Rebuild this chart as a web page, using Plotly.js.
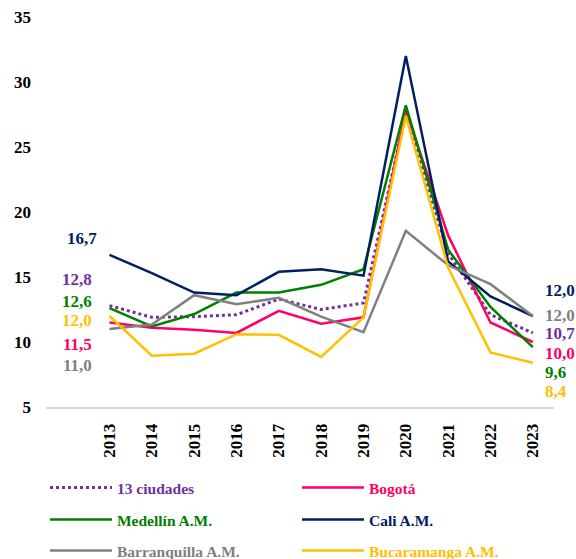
<!DOCTYPE html>
<html>
<head>
<meta charset="utf-8">
<script src="https://cdn.plot.ly/plotly-3.0.1.min.js"></script>
<style>html,body{margin:0;padding:0;background:#fff;}#chart{width:576px;height:559px;}</style>
</head>
<body>
<div id="chart"></div>
<script>
var years = [2013, 2014, 2015, 2016, 2017, 2018, 2019, 2020, 2021, 2022, 2023];
var ciudades13   = [12.8, 11.9, 11.95, 12.1, 13.3, 12.5, 13.0, 27.6, 16.8, 12.1, 10.7];
var bogota       = [11.5, 11.1, 10.95, 10.7, 12.4, 11.4, 11.9, 27.8, 18.2, 11.5, 10.0];
var medellin     = [12.6, 11.2, 12.15, 13.8, 13.8, 14.4, 15.6, 28.2, 17.1, 12.7, 9.6];
var cali         = [16.7, 15.3, 13.8, 13.6, 15.4, 15.6, 15.1, 32.0, 16.2, 13.5, 12.0];
var barranquilla = [11.0, 11.35, 13.6, 12.9, 13.4, 11.95, 10.75, 18.55, 15.9, 14.45, 12.0];
var bucaramanga  = [12.0, 8.95, 9.1, 10.6, 10.55, 8.85, 11.9, 27.4, 15.7, 9.2, 8.4];
var yTicks = [5, 10, 15, 20, 25, 30, 35];

var seriesNames = ['13 ciudades', 'Bogotá', 'Medellín A.M.', 'Cali A.M.', 'Barranquilla A.M.', 'Bucaramanga A.M.'];
var seriesData = [ciudades13, bogota, medellin, cali, barranquilla, bucaramanga];
var colors = ['#7030A0', '#FF0066', '#008000', '#002060', '#808080', '#FFC000'];
var legendIds = ['legend', 'legend', 'legend2', 'legend2', 'legend3', 'legend3'];

var traces = seriesData.map(function (d, i) {
  return {
    x: years, y: d, type: 'scatter', mode: 'lines',
    name: '<span style="color:' + colors[i] + '">' + seriesNames[i] + '</span>',
    line: {color: colors[i], width: i === 0 ? 3 : 2.5, dash: i === 0 ? 'dot' : 'solid'},
    legend: legendIds[i],
    hoverinfo: 'skip'
  };
});

function fmt(v) { return v.toFixed(1).replace('.', ','); }

var serif = 'Liberation Serif, Times New Roman, serif';
var leftLab = [[3, 18.0, 2012.75], [0, 14.77, 2012.63], [2, 13.08, 2012.63], [5, 11.69, 2012.63], [1, 9.77, 2012.63], [4, 8.23, 2012.63]];
var rightLab = [[3, 14.0], [4, 12.05], [0, 10.65], [1, 9.08], [2, 7.62], [5, 6.23]];
var annotations = [];
leftLab.forEach(function (l) {
  annotations.push({x: l[2], y: l[1], xref: 'x', yref: 'y', text: '<b>' + fmt(seriesData[l[0]][0]) + '</b>',
    showarrow: false, xanchor: 'right', yanchor: 'middle',
    font: {family: serif, size: 17, color: colors[l[0]]}});
});
rightLab.forEach(function (l) {
  var d = seriesData[l[0]];
  annotations.push({x: 2023.24, y: l[1], xref: 'x', yref: 'y', text: '<b>' + fmt(d[d.length - 1]) + '</b>',
    showarrow: false, xanchor: 'left', yanchor: 'middle',
    font: {family: serif, size: 17, color: colors[l[0]]}});
});

var legendBase = {orientation: 'h', xanchor: 'left', yanchor: 'middle', x: -0.002,
  entrywidth: 175, entrywidthmode: 'pixels', itemwidth: 62, bgcolor: 'rgba(0,0,0,0)',
  font: {family: serif, size: 15.5, weight: 'bold'}};
function leg(y) { var o = JSON.parse(JSON.stringify(legendBase)); o.y = y; return o; }

var layout = {
  width: 576, height: 559,
  margin: {l: 46, r: 22, t: 17, b: 152, autoexpand: false},
  paper_bgcolor: '#fff', plot_bgcolor: '#fff',
  showlegend: true,
  font: {family: serif, size: 17, color: '#000', weight: 'bold'},
  xaxis: {range: [2011.5, 2023.5], tickvals: years, ticktext: years.map(String), tickangle: -90,
    showgrid: false, zeroline: false, showline: true, linecolor: '#D9D9D9', linewidth: 2,
    ticks: '', ticklabelstandoff: 8, fixedrange: true, automargin: false,
    tickfont: {family: serif, size: 17, color: '#000', weight: 'bold'}},
  yaxis: {range: [5, 35], tickvals: yTicks, showgrid: false, zeroline: false, showline: false,
    ticks: '', ticklabelstandoff: 14, fixedrange: true, automargin: false,
    tickfont: {family: serif, size: 17, color: '#000', weight: 'bold'}},
  legend: leg(-0.2077),
  legend2: leg(-0.2897),
  legend3: leg(-0.369),
  annotations: annotations
};

Plotly.newPlot('chart', traces, layout, {displayModeBar: false, staticPlot: true});
</script>
</body>
</html>
